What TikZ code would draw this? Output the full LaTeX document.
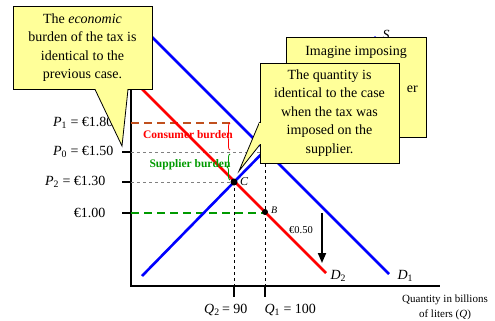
\documentclass[tikz,border=0pt]{standalone}
\usepackage{fontspec}
\setmainfont{Liberation Serif}
\usepackage{xcolor}
\usetikzlibrary{arrows.meta,positioning,calc,decorations.pathreplacing}
\definecolor{notefill}{HTML}{FFFF99}
\definecolor{burnt}{HTML}{C0501E}
\definecolor{leaf}{HTML}{009A00}

\begin{document}
\begin{tikzpicture}[x=1pt, y=-1pt,
    note/.style={draw, line width=0.8pt, fill=notefill, rectangle, align=center, inner sep=0pt, font=\fontsize{14}{18.5}\selectfont},
    notetext/.style={font=\fontsize{14}{18.5}\selectfont, inner sep=0pt},
    price/.style={anchor=east, font=\fontsize{14}{16}\selectfont},
    qty/.style={font=\fontsize{14}{16}\selectfont},
    curve/.style={line width=2.6pt},
    axis/.style={line width=1.6pt},
    guide/.style={gray, line width=0.7pt, dash pattern=on 3pt off 3pt},
    drop/.style={black, line width=0.7pt, dash pattern=on 3pt off 3pt},
    pline/.style={line width=1.5pt, dash pattern=on 8pt off 5pt},
    burden/.style={font=\fontsize{11.5}{13}\selectfont\bfseries},
    brace/.style={decorate, decoration={brace, amplitude=3pt, mirror}, line width=0.8pt},
    dot/.style={circle, fill=black, inner sep=0pt, minimum size=7pt},
    arrow/.style={-{Triangle[length=10pt,width=8pt]}, line width=1.8pt}
]
\useasboundingbox (0,0) rectangle (495,321);

\coordinate (O) at (131,286);
\coordinate (ytop) at (131,25);
\coordinate (xend) at (440,286);
\coordinate (p1) at (131,123);
\coordinate (p0) at (131,152);
\coordinate (p2) at (131,182);
\coordinate (p3) at (131,213);
\coordinate (q2) at (234,286);
\coordinate (q1) at (265,286);
\coordinate (A) at (265,152);
\coordinate (p1e) at (232,123);

\draw[axis] (ytop) -- (O) -- (xend);
\draw[axis] (p0) -- ++(-9,0);
\draw[axis] (p2) -- ++(-9,0);
\draw[axis] (p3) -- ++(-9,0);
\draw[axis] (q2) -- ++(0,11);
\draw[axis] (q1) -- ++(0,11);

\draw[pline, burnt] (p1) -- (p1e);
\draw[guide] (p0) -- (A);
\draw[guide] (p2) -- (234,182);
\draw[drop] (234,182) -- (q2);
\draw[drop] (A) -- (q1);
\draw[pline, leaf] (p3) -- (265,213);

\coordinate (s0) at (142,276);
\coordinate (s1) at (376,37);
\coordinate (d1a) at (140,25);
\coordinate (d1b) at (389,274);
\coordinate (d2a) at (133,80);
\coordinate (d2b) at (326,273);
\draw[curve, blue] (s0) -- (s1);
\draw[curve, blue] (d1a) -- (d1b);
\draw[curve, red] (d2a) -- (d2b);

\node[dot] (C) at (234,182) {};
\node[dot, minimum size=6pt] (B) at (265,212) {};
\node[anchor=west, inner sep=0pt, font=\fontsize{12}{14}\selectfont\itshape] (lc) at (240,182) {C};
\node[anchor=west, inner sep=0pt, font=\fontsize{10}{12}\selectfont\itshape] (lb) at (271,210) {B};

\node[burden, red] (cons) at (188,135) {Consumer burden};
\node[burden, leaf] (supp) at (190,165) {Supplier burden};
\draw[brace, red] (230,123) -- (230,150);
\draw[brace, leaf] (230,154) -- (230,180);

\coordinate (t0) at (322,213);
\coordinate (t1) at (322,263);
\draw[arrow] (t0) -- (t1);
\node[font=\fontsize{10.5}{12}\selectfont] (tax) at (301,230) {€0.50};

\node[price] (lp1) at (117,123) {\textit{P}\textsubscript{1} = €1.80};
\node[price] (lp0) at (117,152) {\textit{P}\textsubscript{0} = €1.50};
\node[price] (lp2) at (109,182) {\textit{P}\textsubscript{2} = €1.30};
\node[price] (lp3) at (109,213) {€1.00};

\node[qty, anchor=east] (lq2) at (251,310) {\textit{Q}\textsubscript{2}\,= 90};
\node[qty, anchor=west] (lq1) at (261,310) {\textit{Q}\textsubscript{1} = 100};
\node[font=\fontsize{11}{15}\selectfont, align=center] (xlab) at (445,307) {Quantity in billions\\of liters (\textit{Q})};

\node[qty, anchor=west] (ld2) at (327,276) {\textit{D}\textsubscript{2}};
\node[qty, anchor=west] (ld1) at (394,276) {\textit{D}\textsubscript{1}};
\node[qty] (ls) at (386,35) {\textit{S}};

\node[note, minimum width=140pt, minimum height=100pt] (imag) at (356,87) {};
\node[notetext] (imag1) at (356,52) {Imagine imposing};
\node[notetext, anchor=east] (imag2) at (418,89) {er};

\node[note, minimum width=139pt, minimum height=100pt] (qnote) at (329.5,113) {The quantity is\\identical to the case\\when the tax was\\imposed on the\\supplier.};
\coordinate (qtip) at (239,171);
\draw[line width=0.8pt, fill=notefill] ($(qnote.west)+(0,9)$) -- (qtip) -- ($(qnote.west)+(0,32)$);
\fill[notefill] ($(qnote.west)+(-1,9.6)$) rectangle ($(qnote.west)+(1.5,31.4)$);

\node[note, minimum width=139pt, minimum height=83pt] (econ) at (82.5,47.5) {The \textit{economic}\\burden of the tax is\\identical to the\\previous case.};
\coordinate (etip) at (122,146);
\draw[line width=0.8pt, fill=notefill] ($(econ.south)+(12.5,0)$) -- (etip) -- ($(econ.south)+(45.5,0)$);
\fill[notefill] ($(econ.south)+(13.1,-1.5)$) rectangle ($(econ.south)+(44.9,1)$);
\end{tikzpicture}
\end{document}
